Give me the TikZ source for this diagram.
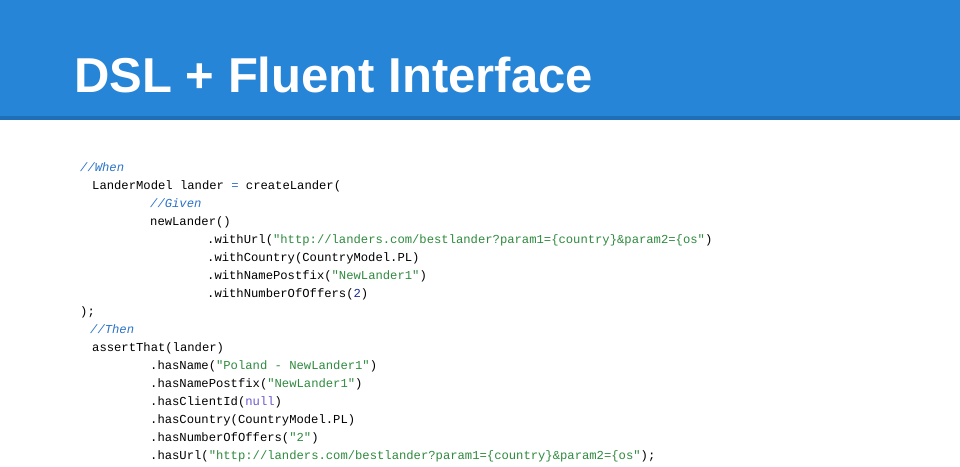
\documentclass[tikz,border=0pt]{standalone}
\usepackage{fontspec}
\setmainfont{Liberation Sans}
\newfontfamily\codefont{Liberation Mono}
\definecolor{headBlue}{HTML}{2785D8}
\definecolor{headEdge}{HTML}{1F6FB8}
\definecolor{cmtBlue}{HTML}{2A72C8}
\definecolor{strGreen}{HTML}{2E8A3E}
\definecolor{numNavy}{HTML}{1A2C8A}
\definecolor{nullViolet}{HTML}{6A5ACD}
\newcommand{\cmt}[1]{\textcolor{cmtBlue}{\itshape #1}}
\newcommand{\str}[1]{\textcolor{strGreen}{#1}}
\begin{document}
\begin{tikzpicture}[x=1pt,y=-1pt,
    codeline/.style={anchor=base west, inner sep=0pt, font=\codefont\fontsize{12.2}{18}\selectfont}]

        \useasboundingbox (0,0) rectangle (960,466);
        % header
        \fill[headBlue] (0,0) rectangle (960,116);
        \fill[headEdge] (0,116) rectangle (960,120);
        \node[anchor=base west, inner sep=0pt, text=white,
              font=\bfseries\fontsize{49}{49}\selectfont] (title) at (74,92) {DSL + Fluent Interface};

        % code
        \node[codeline] (l1) at (80,171) {\cmt{//When}};
        \node[codeline] (l2) at (92,189) {LanderModel lander \textcolor{cmtBlue}{=} createLander(};
        \node[codeline] (l3) at (150,207) {\cmt{//Given}};
        \node[codeline] (l4) at (150,225) {newLander()};
        \node[codeline] (l5) at (207,243) {.withUrl(\str{"http://landers.com/bestlander?param1=\{country\}\&param2=\{os"})};
        \node[codeline] (l6) at (207,261) {.withCountry(CountryModel.PL)};
        \node[codeline] (l7) at (207,279) {.withNamePostfix(\str{"NewLander1"})};
        \node[codeline] (l8) at (207,297) {.withNumberOfOffers(\textcolor{numNavy}{2})};
        \node[codeline] (l9) at (80,315) {);};
        \node[codeline] (l10) at (90,333) {\cmt{//Then}};
        \node[codeline] (l11) at (92,351) {assertThat(lander)};
        \node[codeline] (l12) at (150,369) {.hasName(\str{"Poland - NewLander1"})};
        \node[codeline] (l13) at (150,387) {.hasNamePostfix(\str{"NewLander1"})};
        \node[codeline] (l14) at (150,405) {.hasClientId(\textcolor{nullViolet}{null})};
        \node[codeline] (l15) at (150,423) {.hasCountry(CountryModel.PL)};
        \node[codeline] (l16) at (150,441) {.hasNumberOfOffers(\str{"2"})};
        \node[codeline] (l17) at (150,459) {.hasUrl(\str{"http://landers.com/bestlander?param1=\{country\}\&param2=\{os"});};

    \end{tikzpicture}
\end{document}
